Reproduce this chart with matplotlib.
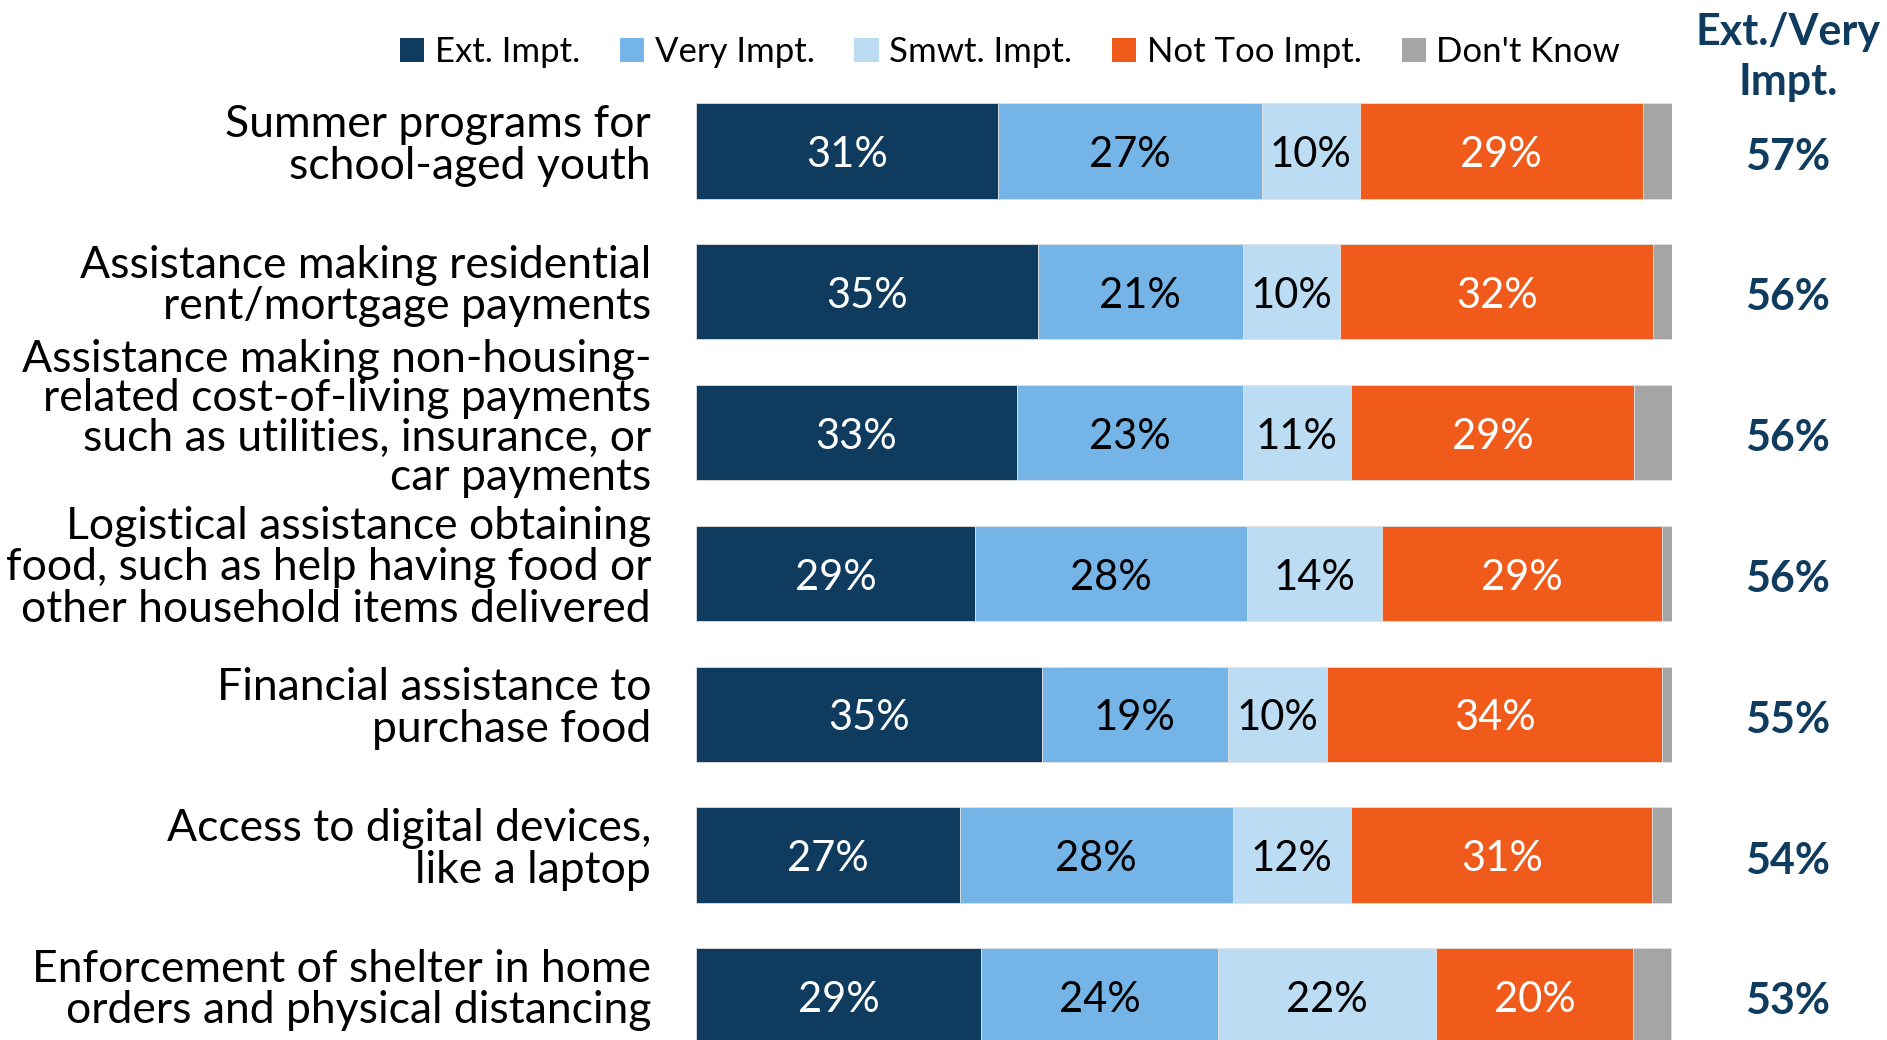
import matplotlib
matplotlib.use("Agg")
import matplotlib.pyplot as plt
from matplotlib.patches import Patch

plt.rcParams['font.family'] = ['Lato', 'DejaVu Sans']

categories = [
    "Summer programs for\nschool-aged youth",
    "Assistance making residential\nrent/mortgage payments",
    "Assistance making non-housing-\nrelated cost-of-living payments\nsuch as utilities, insurance, or\ncar payments",
    "Logistical assistance obtaining\nfood, such as help having food or\nother household items delivered",
    "Financial assistance to\npurchase food",
    "Access to digital devices,\nlike a laptop",
    "Enforcement of shelter in home\norders and physical distancing",
]
series_names = ["Ext. Impt.", "Very Impt.", "Smwt. Impt.", "Not Too Impt.", "Don't Know"]
ext_impt = [30.9, 35.0, 32.9, 28.6, 35.4, 27.0, 29.2]
very_impt = [27.1, 21.0, 23.1, 27.9, 19.1, 28.0, 24.3]
smwt_impt = [10.0, 10.0, 11.1, 13.8, 10.2, 12.1, 22.3]
not_too_impt = [29.0, 32.1, 29.0, 28.7, 34.3, 30.9, 20.2]
dont_know = [3.0, 2.0, 3.9, 1.0, 1.0, 2.0, 3.9]
net_ext_very = ["57%", "56%", "56%", "56%", "55%", "54%", "53%"]

colors = ["#0F3B5F", "#74B4E6", "#BBDCF3", "#F05A1A", "#A5A5A5"]
text_colors = ["white", "black", "black", "white", None]
series = [ext_impt, very_impt, smwt_impt, not_too_impt, dont_know]

W, H = 1887, 1040
fig = plt.figure(figsize=(W / 100, H / 100), dpi=100)
ax = fig.add_axes([696 / W, 0, (1672 - 696) / W, (1040 - 80.6) / H])

ypos = list(range(len(categories)))
left = [0.0] * len(categories)
for vals, col, tcol, name in zip(series, colors, text_colors, series_names):
    bars = ax.barh(ypos, vals, left=left, height=0.675, color=col,
                   edgecolor="#E0E0E0", linewidth=0.6, label=name)
    if tcol is not None:
        for b, v in zip(bars, vals):
            ax.text(b.get_x() + b.get_width() / 2, b.get_y() + b.get_height() / 2 + 0.03,
                    f"{round(v)}%", ha="center", va="center", color=tcol, fontsize=30)
    left = [l + v for l, v in zip(left, vals)]

ax.set_xlim(0, 100)
ax.set_ylim(6.314, -0.5)
ax.axis("off")

for y, cat in zip(ypos, categories):
    four = cat.count("\n") == 3
    ls = 0.95 if four else 1.02
    off = -0.1 if four else -0.04
    ax.text(-4.6, y + off, cat, ha="right", va="center", fontsize=32,
            color="black", linespacing=ls)

net_x = 1788 / W
for y, net in zip(ypos, net_ext_very):
    yd = ax.transData.transform((0, y + 0.04))[1]
    fig.text(net_x, yd / H, net, ha="center", va="center", fontsize=31,
             fontweight="bold", color="#0F3B5F")

fig.text(net_x, 1 - 57 / H, "Ext./Very\nImpt.", ha="center", va="center",
         fontsize=31, fontweight="bold", color="#0F3B5F", linespacing=1.3)

handles = [Patch(facecolor=c, edgecolor="none") for c in colors]
fig.legend(handles, series_names, loc="center", bbox_to_anchor=(1010 / W, 1 - 52 / H),
           ncol=5, frameon=False, fontsize=25, handlelength=0.7, handleheight=0.7,
           handletextpad=0.3, columnspacing=1.15, borderpad=0)

fig.savefig("out.png", dpi=100, facecolor="white")
